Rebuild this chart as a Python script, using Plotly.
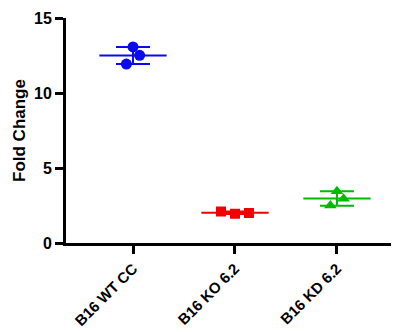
import plotly.graph_objects as go
import numpy as np

# Fold change per cell line (three replicates each)
groups = ["B16 WT CC", "B16 KO 6.2", "B16 KD 6.2"]
wt_cc = [13.07, 12.51, 11.93]
ko_62 = [1.95, 2.00, 2.10]
kd_62 = [3.45, 2.95, 2.50]
y_ticks = [0, 5, 10, 15]

series = [wt_cc, ko_62, kd_62]
colors = ["#0A0AF0", "#F20000", "#00BA00"]
symbols = ["circle", "square", "triangle-up"]

fig = go.Figure()

PX_PER_Y = 15.0      # plot height 225 px over 15 units
MARKER_PX = 10.0

for i, (vals, col, sym) in enumerate(zip(series, colors, symbols)):
    v = np.array(vals, dtype=float)
    mean = v.mean()
    sd = v.std(ddof=1)

    # simple swarm: spread more widely when the points would overlap vertically
    span_px = (v.max() - v.min()) * PX_PER_Y
    step = 0.137 if span_px < MARKER_PX else 0.065
    pattern = np.array([0.0, 1.0, -1.0])
    xs = i + pattern[: len(v)] * step

    # mean line
    fig.add_trace(go.Scatter(
        x=[i - 0.33, i + 0.33], y=[mean, mean], mode="lines",
        line=dict(color=col, width=2), hoverinfo="skip", showlegend=False))
    # SD whiskers
    fig.add_trace(go.Scatter(
        x=[i], y=[mean], mode="markers",
        marker=dict(size=1, color="rgba(0,0,0,0)"),
        error_y=dict(type="data", array=[sd], visible=True,
                     color=col, thickness=2, width=17),
        hoverinfo="skip", showlegend=False))
    # replicate points
    fig.add_trace(go.Scatter(
        x=xs, y=v, mode="markers",
        marker=dict(symbol=sym, size=11 if sym != "square" else 10,
                    color=col, line=dict(width=0)),
        showlegend=False))

font_family = "Liberation Sans, Arial, sans-serif"

fig.update_layout(
    width=400, height=332,
    margin=dict(l=66, r=9, t=18, b=89),
    paper_bgcolor="white", plot_bgcolor="white",
    font=dict(family=font_family, color="black"),
)

fig.update_xaxes(
    range=[-0.657, 2.53], automargin=False,
    tickmode="array", tickvals=[0, 1, 2], ticktext=groups,
    tickangle=-45,
    tickfont=dict(size=15, weight="bold", family=font_family, color="black"),
    showline=True, linecolor="black", linewidth=3,
    ticks="outside", ticklen=8, tickwidth=3, tickcolor="black",
    showgrid=False, zeroline=False,
)

fig.update_yaxes(
    range=[0, 15], automargin=False,
    tickmode="array", tickvals=y_ticks,
    tickfont=dict(size=16, weight="bold", family=font_family, color="black"),
    showline=True, linecolor="black", linewidth=3,
    ticks="outside", ticklen=8, tickwidth=2.5, tickcolor="black",
    showgrid=False, zeroline=False,
    title=dict(text="Fold Change", standoff=5,
               font=dict(size=17, weight="bold", family=font_family, color="black")),
)

fig.write_html("out.html")
